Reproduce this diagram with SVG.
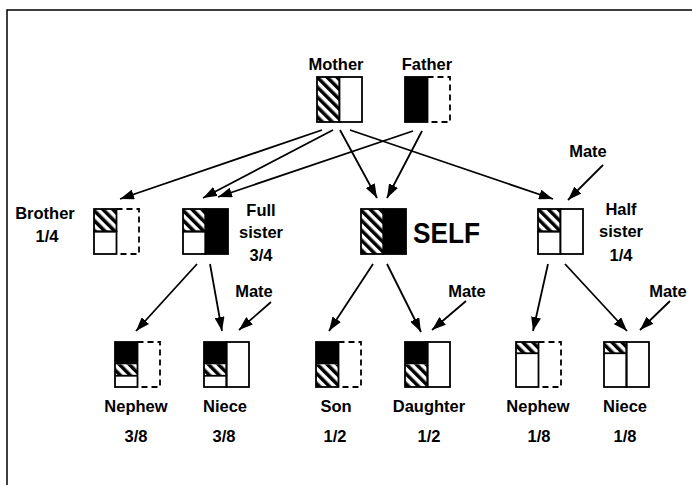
<svg xmlns="http://www.w3.org/2000/svg" width="692" height="485" viewBox="0 0 692 485">
<style>
.o{fill:none;stroke:#000;stroke-width:1.8}
.d{fill:none;stroke:#000;stroke-width:1.8;stroke-dasharray:6 4}
.h{fill:url(#hatch)}
.k{fill:#000}
.w{fill:#fff}
.t{font-family:"Liberation Sans",Arial,sans-serif;font-weight:bold;font-size:16.5px;text-anchor:middle;fill:#000}
.c{stroke:#000;stroke-width:1.8;fill:none;marker-end:url(#ah)}
</style>
<defs>
<pattern id="hatch" patternUnits="userSpaceOnUse" width="7" height="7" patternTransform="rotate(-45)">
<rect width="7" height="7" fill="#fff"/><rect width="3.5" height="7" fill="#000"/>
</pattern>
<marker id="ah" markerUnits="userSpaceOnUse" markerWidth="14" markerHeight="10" refX="14" refY="5" orient="auto">
<path d="M0,0 L14,5 L0,10 z" fill="#000"/>
</marker>
</defs>
<rect width="692" height="485" fill="#fff"/>
<path d="M7,485 V10 H692" fill="none" stroke="#000" stroke-width="1.5"/>

<g id="connectors">
<line class="c" x1="322" y1="130" x2="120" y2="199"/>
<line class="c" x1="333" y1="130" x2="203" y2="198"/>
<line class="c" x1="340" y1="130" x2="377" y2="198"/>
<line class="c" x1="350" y1="130" x2="553" y2="199"/>
<line class="c" x1="413" y1="131" x2="218" y2="197"/>
<line class="c" x1="422" y1="131" x2="387" y2="198"/>
<line class="c" x1="603" y1="165" x2="568" y2="200"/>
<line class="c" x1="197" y1="264" x2="136" y2="331"/>
<line class="c" x1="210" y1="264" x2="222" y2="331"/>
<line class="c" x1="271" y1="302" x2="239" y2="330"/>
<line class="c" x1="373" y1="264" x2="329" y2="331"/>
<line class="c" x1="387" y1="264" x2="421" y2="332"/>
<line class="c" x1="466" y1="301" x2="432" y2="330"/>
<line class="c" x1="548" y1="264" x2="533" y2="331"/>
<line class="c" x1="565" y1="264" x2="627" y2="331"/>
<line class="c" x1="670" y1="301" x2="640" y2="330"/>
</g>

<g id="mother">
<text class="t" x="336" y="70">Mother</text>
<rect class="h" x="317" y="77" width="22.5" height="45"/>
<rect class="o" x="317" y="77" width="22.5" height="45"/>
<rect class="o w" x="339.5" y="77" width="22.5" height="45"/>
</g>
<g id="father">
<text class="t" x="427" y="70">Father</text>
<rect class="k" x="405" y="77" width="22.5" height="45"/>
<rect class="o" x="405" y="77" width="22.5" height="45"/>
<path class="d" d="M427.5,77 H450 V122 H427.5"/>
</g>

<g id="brother">
<text class="t" x="45" y="219">Brother</text>
<text class="t" x="47" y="242">1/4</text>
<rect class="h" x="94" y="209" width="22.5" height="22.5"/>
<rect class="o" x="94" y="209" width="22.5" height="22.5"/>
<rect class="o" x="94" y="231.5" width="22.5" height="22.5"/>
<path class="d" d="M116.5,209 H139 V254 H116.5"/>
</g>
<g id="full-sister">
<text class="t" x="261" y="216">Full</text>
<text class="t" x="261" y="238">sister</text>
<text class="t" x="261" y="261">3/4</text>
<rect class="h" x="183" y="209" width="22.5" height="22.5"/>
<rect class="o" x="183" y="209" width="22.5" height="22.5"/>
<rect class="o" x="183" y="231.5" width="22.5" height="22.5"/>
<rect class="k o" x="205.5" y="209" width="22.5" height="45"/>
</g>
<g id="self">
<rect class="h" x="361" y="209" width="22.5" height="45"/>
<rect class="o" x="361" y="209" width="22.5" height="45"/>
<rect class="k o" x="383.5" y="209" width="22.5" height="45"/>
<text x="413" y="243" font-family="Liberation Sans, Arial, sans-serif" font-weight="bold" font-size="30" textLength="67" lengthAdjust="spacingAndGlyphs">SELF</text>
</g>
<g id="half-sister">
<text class="t" x="621" y="215">Half</text>
<text class="t" x="621" y="237">sister</text>
<text class="t" x="621" y="261">1/4</text>
<rect class="h" x="538" y="209" width="22.5" height="22.5"/>
<rect class="o" x="538" y="209" width="22.5" height="22.5"/>
<rect class="o" x="538" y="231.5" width="22.5" height="22.5"/>
<rect class="o w" x="560.5" y="209" width="22.5" height="45"/>
</g>
<g id="mate-half">
<text class="t" x="588" y="157">Mate</text>
</g>

<g id="mate-1"><text class="t" x="254" y="297">Mate</text></g>
<g id="mate-2"><text class="t" x="467" y="297">Mate</text></g>
<g id="mate-3"><text class="t" x="668" y="297">Mate</text></g>

<g id="nephew-1">
<rect class="k" x="115" y="342" width="22.5" height="22.5"/>
<rect class="h" x="115" y="364.5" width="22.5" height="11.25"/>
<rect class="o" x="115" y="342" width="22.5" height="45"/>
<line class="o" x1="115" y1="375.75" x2="137.5" y2="375.75"/>
<path class="d" d="M137.5,342 H160 V387 H137.5"/>
<text class="t" x="136" y="412">Nephew</text>
<text class="t" x="136" y="442">3/8</text>
</g>
<g id="niece-1">
<rect class="k" x="204" y="342" width="22.5" height="22.5"/>
<rect class="h" x="204" y="364.5" width="22.5" height="11.25"/>
<rect class="o" x="204" y="342" width="22.5" height="45"/>
<line class="o" x1="204" y1="375.75" x2="226.5" y2="375.75"/>
<rect class="o" x="226.5" y="342" width="22.5" height="45"/>
<text class="t" x="225" y="412">Niece</text>
<text class="t" x="224" y="442">3/8</text>
</g>
<g id="son">
<rect class="k" x="316" y="342" width="22.5" height="22.5"/>
<rect class="h" x="316" y="364.5" width="22.5" height="22.5"/>
<rect class="o" x="316" y="342" width="22.5" height="45"/>
<path class="d" d="M338.5,342 H361 V387 H338.5"/>
<text class="t" x="336" y="412">Son</text>
<text class="t" x="335" y="442">1/2</text>
</g>
<g id="daughter">
<rect class="k" x="405" y="342" width="22.5" height="22.5"/>
<rect class="h" x="405" y="364.5" width="22.5" height="22.5"/>
<rect class="o" x="405" y="342" width="22.5" height="45"/>
<rect class="o" x="427.5" y="342" width="22.5" height="45"/>
<text class="t" x="429" y="412">Daughter</text>
<text class="t" x="429" y="442">1/2</text>
</g>
<g id="nephew-3">
<rect class="h" x="516" y="342" width="22.5" height="11.25"/>
<rect class="o" x="516" y="342" width="22.5" height="45"/>
<line class="o" x1="516" y1="353.25" x2="538.5" y2="353.25"/>
<path class="d" d="M538.5,342 H561 V387 H538.5"/>
<text class="t" x="538" y="412">Nephew</text>
<text class="t" x="539" y="442">1/8</text>
</g>
<g id="niece-3">
<rect class="h" x="604" y="342" width="22.5" height="11.25"/>
<rect class="o" x="604" y="342" width="22.5" height="45"/>
<line class="o" x1="604" y1="353.25" x2="626.5" y2="353.25"/>
<rect class="o" x="626.5" y="342" width="22.5" height="45"/>
<text class="t" x="625" y="412">Niece</text>
<text class="t" x="625" y="442">1/8</text>
</g>
</svg>
